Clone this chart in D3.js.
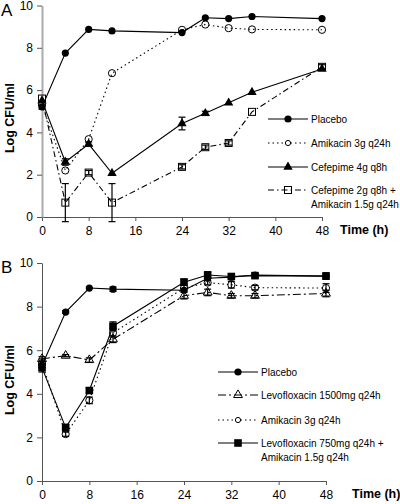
<!DOCTYPE html>
<html><head><meta charset="utf-8">
<script src="https://cdn.jsdelivr.net/npm/d3@7"></script>
<style>body{margin:0;background:#fff}svg{display:block}text{font-family:"Liberation Sans",Arial,sans-serif}</style>
</head><body>
<script>
const times = [0, 4, 8, 12, 24, 28, 32, 36, 48];
const xTicks = [0, 8, 16, 24, 32, 40, 48];
const yTicks = [0, 2, 4, 6, 8, 10];

// Panel A
const placeboA = [5.2, 7.75, 8.87, 8.8, 8.72, 9.42, 9.38, 9.48, 9.38];
const placeboAErr = [0.1, 0, 0, 0, 0, 0, 0, 0, 0];
const amikacinA = [5.3, 2.2, 3.68, 6.8, 8.85, 9.1, 8.93, 8.87, 8.85];
const amikacinAErr = [0, 0, 0, 0, 0, 0, 0, 0, 0];
const cefepime4A = [5.5, 2.6, 3.45, 2.07, 4.42, 4.9, 5.4, 5.9, 7.0];
const cefepime4AErr = [0, 0.15, 0.1, 0, 0.3, 0.1, 0, 0, 0];
const cefepime2A = [5.6, 0.68, 2.1, 0.68, 2.37, 3.3, 3.5, 4.97, 7.1];
const cefepime2AErr = [0, 0.9, 0.1, 0.9, 0.1, 0.1, 0.1, 0, 0.1];
const labelsA = ["Placebo", "Amikacin 3g q24h", "Cefepime 4g q8h", ["Cefepime 2g q8h +", "Amikacin 1.5g q24h"]];

// Panel B
const placeboB = [5.3, 7.75, 8.85, 8.8, 8.75, 9.3, 9.35, 9.45, 9.4];
const placeboBErr = [0.1, 0.05, 0, 0.1, 0, 0, 0, 0, 0];
const levo1500B = [5.6, 5.75, 5.55, 6.5, 8.5, 8.65, 8.5, 8.5, 8.6];
const levo1500BErr = [0.1, 0.05, 0.1, 0.15, 0.15, 0.15, 0.1, 0.1, 0.15];
const amikacinB = [5.4, 2.15, 3.7, 6.8, 8.85, 9.1, 9.0, 8.87, 8.85];
const amikacinBErr = [0.2, 0.1, 0.15, 0.2, 0.15, 0.1, 0.15, 0.1, 0.2];
const comboB = [5.2, 2.45, 4.15, 7.1, 9.12, 9.45, 9.38, 9.42, 9.4];
const comboBErr = [0.2, 0.15, 0.1, 0.2, 0.15, 0.15, 0.1, 0.1, 0.15];
const labelsB = ["Placebo", "Levofloxacin 1500mg q24h", "Amikacin 3g q24h", ["Levofloxacin 750mg q24h +", "Amikacin 1.5g q24h"]];

const svg = d3.select("body").append("svg").attr("width", 400).attr("height", 504);

const styles = {
  solid: null,
  dotted: "1.5,3",
  dashdot: "6,3,1.5,3",
  longdashdot: "8,3,2,3"
};

function marker(g, type, x, y) {
  if (type === "dot") {
    g.append("circle").attr("cx", x).attr("cy", y).attr("r", 3.6).attr("fill", "#000");
  } else if (type === "ocircle") {
    g.append("circle").attr("cx", x).attr("cy", y).attr("r", 3.6).attr("fill", "none").attr("stroke", "#000").attr("stroke-width", 1);
  } else if (type === "tri") {
    g.append("path").attr("d", d3.symbol(d3.symbolTriangle, 38)()).attr("transform", `translate(${x},${y})`).attr("fill", "#000");
  } else if (type === "otri") {
    g.append("path").attr("d", d3.symbol(d3.symbolTriangle, 34)()).attr("transform", `translate(${x},${y})`).attr("fill", "none").attr("stroke", "#000").attr("stroke-width", 1);
  } else if (type === "sq") {
    g.append("rect").attr("x", x - 3.8).attr("y", y - 3.8).attr("width", 7.6).attr("height", 7.6).attr("fill", "#000");
  } else if (type === "osq") {
    g.append("rect").attr("x", x - 3.5).attr("y", y - 3.5).attr("width", 7).attr("height", 7).attr("fill", "none").attr("stroke", "#000").attr("stroke-width", 1);
  }
}

function panel(cfg) {
  const x = d3.scaleLinear().domain([0, 48]).range([cfg.x0, cfg.x1]);
  const y = d3.scaleLinear().domain([0, 10]).range([cfg.y0, cfg.y1]);
  const g = svg.append("g");

  const xa = g.append("g").attr("transform", `translate(0,${cfg.y0})`)
    .call(d3.axisBottom(x).tickValues(xTicks).tickSize(4).tickSizeOuter(0).tickPadding(5));
  xa.select(".domain").attr("stroke", "#555");
  xa.selectAll(".tick line").attr("stroke", "#555");
  xa.selectAll("text").attr("font-size", 12).attr("fill", "#000").attr("font-family", "Liberation Sans, Arial, sans-serif");

  const ya = g.append("g").attr("transform", `translate(${cfg.x0},0)`)
    .call(d3.axisLeft(y).tickValues(yTicks).tickSize(5).tickSizeOuter(0).tickPadding(4));
  ya.select(".domain").attr("stroke", cfg.yAxisColor).attr("stroke-width", cfg.yAxisWidth);
  ya.selectAll(".tick line").attr("stroke", "#555");
  ya.selectAll("text").attr("font-size", 12).attr("fill", "#000").attr("font-family", "Liberation Sans, Arial, sans-serif");

  g.append("text").attr("x", 1).attr("y", cfg.y1 + 10).attr("font-size", 17).text(cfg.letter);
  g.append("text").attr("transform", `translate(14,${cfg.ytitleY}) rotate(-90)`)
    .attr("text-anchor", "middle").attr("font-size", 12.5).attr("font-weight", "bold").text("Log CFU/ml");
  g.append("text").attr("x", cfg.xtitleX).attr("y", cfg.y0 + 17).attr("font-size", 12.5).attr("font-weight", "bold").text("Time (h)");

  const line = d3.line().x(d => x(d[0])).y(d => y(d[1]));
  cfg.series.forEach(s => {
    const pts = times.map((t, i) => [t, s.values[i]]);
    g.append("path").attr("d", line(pts)).attr("fill", "none").attr("stroke", "#000")
      .attr("stroke-width", s.width || 1.1).attr("stroke-dasharray", styles[s.dash]);
    times.forEach((t, i) => {
      const e = s.err[i];
      if (e > 0) {
        const cx = x(t), yt = y(s.values[i] + e), yb = y(s.values[i] - e);
        g.append("line").attr("x1", cx).attr("x2", cx).attr("y1", yt).attr("y2", yb).attr("stroke", "#000").attr("stroke-width", 1.2);
        g.append("line").attr("x1", cx - 3.5).attr("x2", cx + 3.5).attr("y1", yt).attr("y2", yt).attr("stroke", "#000").attr("stroke-width", 1.2);
        g.append("line").attr("x1", cx - 3.5).attr("x2", cx + 3.5).attr("y1", yb).attr("y2", yb).attr("stroke", "#000").attr("stroke-width", 1.2);
      }
    });
    times.forEach((t, i) => marker(g, s.marker, x(t), y(s.values[i])));
  });

  const lg = g.append("g");
  cfg.series.forEach((s, i) => {
    const ly = cfg.legendY[i];
    lg.append("line").attr("x1", cfg.legX).attr("x2", cfg.legX + 40).attr("y1", ly).attr("y2", ly)
      .attr("stroke", "#000").attr("stroke-width", 1.1).attr("stroke-dasharray", styles[s.dash]);
    if (s.marker === "ocircle") {
      lg.append("circle").attr("cx", cfg.legX + 20).attr("cy", ly).attr("r", 2.6).attr("fill", "#fff").attr("stroke", "#000");
    } else {
      marker(lg, s.marker, cfg.legX + 20, ly);
    }
    const lab = cfg.labels[i];
    const lines = Array.isArray(lab) ? lab : [lab];
    lines.forEach((t, k) => {
      lg.append("text").attr("x", cfg.legX + 43).attr("y", ly + 4 + k * 14).attr("font-size", 10).text(t);
    });
  });
}

panel({
  letter: "A", x0: 42, x1: 322, y0: 217, y1: 5.5, yAxisColor: "#aaa", yAxisWidth: 2,
  ytitleY: 118, xtitleX: 340,
  legX: 268, legendY: [119, 143, 167, 190], labels: labelsA,
  series: [
    {values: placeboA, err: placeboAErr, marker: "dot", dash: "solid"},
    {values: amikacinA, err: amikacinAErr, marker: "ocircle", dash: "dotted"},
    {values: cefepime4A, err: cefepime4AErr, marker: "tri", dash: "solid"},
    {values: cefepime2A, err: cefepime2AErr, marker: "osq", dash: "dashdot"}
  ]
});

panel({
  letter: "B", x0: 42, x1: 326, y0: 481, y1: 263, yAxisColor: "#555", yAxisWidth: 1,
  ytitleY: 380, xtitleX: 352,
  legX: 218, legendY: [372, 395, 420, 443], labels: labelsB,
  series: [
    {values: placeboB, err: placeboBErr, marker: "dot", dash: "solid"},
    {values: levo1500B, err: levo1500BErr, marker: "otri", dash: "longdashdot"},
    {values: amikacinB, err: amikacinBErr, marker: "ocircle", dash: "dotted"},
    {values: comboB, err: comboBErr, marker: "sq", dash: "solid"}
  ]
});
</script>
</body></html>
